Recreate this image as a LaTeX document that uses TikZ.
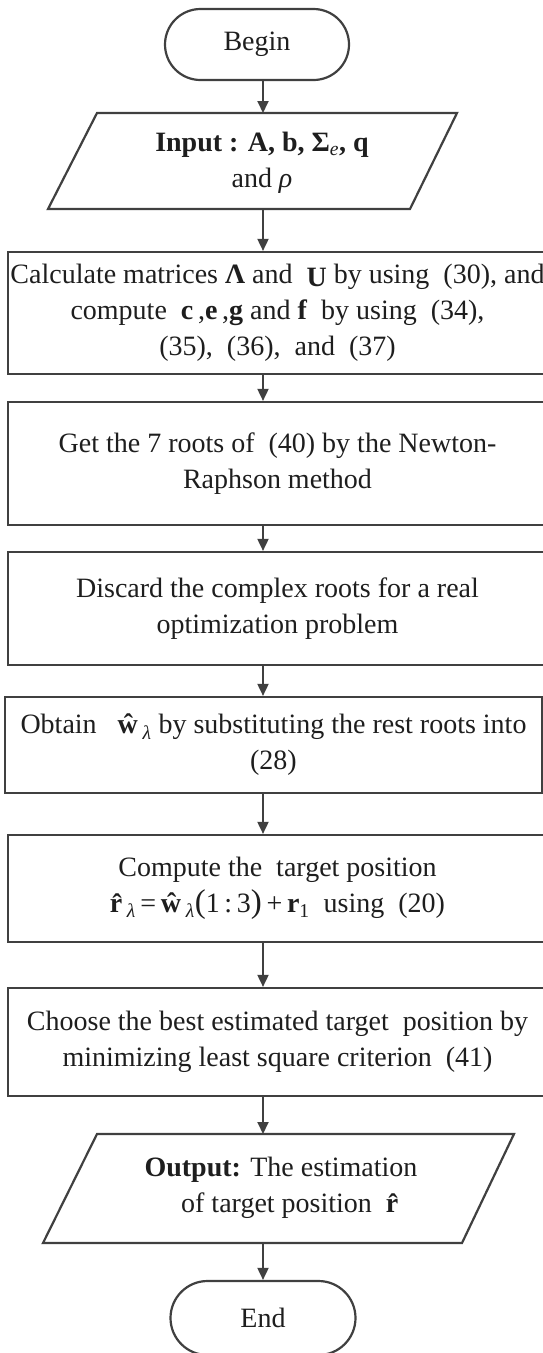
\documentclass[tikz,border=0pt]{standalone}
\usepackage{fontspec}
\setmainfont{Liberation Serif}
\usetikzlibrary{arrows.meta,shapes.misc}
\definecolor{ln}{HTML}{404040}
\definecolor{tx}{HTML}{1E1E1E}
\begin{document}
\begin{tikzpicture}[x=1pt,y=-1pt,
  txt/.style={text=tx, align=center, font=\fontsize{28}{36}\selectfont, inner sep=0pt},
  box/.style={txt, draw=ln, line width=2.2pt, rectangle},
  term/.style={txt, draw=ln, line width=2.2pt, rounded rectangle, minimum width=184pt, minimum height=71pt},
  shapeline/.style={draw=ln, line width=2.2pt, line join=miter},
  arr/.style={draw=ln, line width=1.8pt, -{Triangle[length=12pt,width=11pt]}}]
\useasboundingbox (0,0) rectangle (543,1353);
\clip (0,0) rectangle (543,1353);
\fill[white] (0,0) rectangle (543,1353);
\coordinate (ax) at (263,0);
% Begin
\node[term] (begin) at (257,44.5) {Begin};
% Input
\draw[shapeline] (97,113) -- (457,113) -- (410,209) -- (48,209) -- cycle;
\coordinate (inTop) at (263,113);
\coordinate (inBot) at (263,209);
\node[txt] (input) at (262,163) {\textbf{Input : A, b, Σ}\textsubscript{\textit{e}}\textbf{, q}\\and \textit{ρ}};
% boxes
\node[box, minimum width=539pt, minimum height=122pt] (calc) at (277.5,313)
 {Calculate matrices \textbf{Λ} and \ \raisebox{-3pt}{\textbf{U}} by using\ \ (30), and\\
  compute\ \ \textbf{c}\,,\textbf{e}\,,\textbf{g} and \textbf{f}\ \ by using\ \ (34),\\
  (35),\ \ (36),\ \ and\ \ (37)};
\node[box, minimum width=539pt, minimum height=123pt] (roots) at (277.5,463.5)
 {Get the 7 roots of\ \ (40) by the Newton-\\Raphson method};
\node[box, minimum width=539pt, minimum height=113pt] (discard) at (277.5,608.5)
 {Discard the complex roots for a real\\optimization problem};
\node[box, minimum width=537pt, minimum height=96pt] (obtain) at (273.5,745)
 {Obtain\ \ \ \textbf{ŵ}\,\textsubscript{\textit{λ}} by substituting the rest roots into\\(28)};
\node[box, minimum width=539pt, minimum height=107pt] (compute) at (277.5,888.5)
 {Compute the\ \ target position\\
  \textbf{\^r}\textsubscript{\textit{λ}}\,=\,\textbf{ŵ}\,\textsubscript{\textit{λ}}{\fontsize{33}{33}\selectfont(}1\,:\,3{\fontsize{33}{33}\selectfont)}\,+\,\textbf{r}\textsubscript{1}\ \ using\ \ (20)};
\node[box, minimum width=539pt, minimum height=108pt] (choose) at (277.5,1042)
 {Choose the best estimated target\ \ position by\\minimizing least square criterion\ \ (41)};
% Output
\draw[shapeline] (97,1134) -- (514,1134) -- (462,1243) -- (43,1243) -- cycle;
\coordinate (outTop) at (263,1134);
\coordinate (outBot) at (263,1243);
\node[txt] (output) at (281,1188) {\textbf{Output:} The estimation\\\hspace*{22pt}of target position\ \ \textbf{\^r}};
% End
\node[term, minimum height=74pt, minimum width=185pt] (end) at (263,1318) {End};
% arrows
\draw[arr] (begin.south -| ax) -- (inTop);
\draw[arr] (inBot) -- (calc.north -| ax);
\draw[arr] (calc.south -| ax) -- (roots.north -| ax);
\draw[arr] (roots.south -| ax) -- (discard.north -| ax);
\draw[arr] (discard.south -| ax) -- (obtain.north -| ax);
\draw[arr] (obtain.south -| ax) -- (compute.north -| ax);
\draw[arr] (compute.south -| ax) -- (choose.north -| ax);
\draw[arr] (choose.south -| ax) -- (outTop);
\draw[arr] (outBot) -- (end.north -| ax);
\end{tikzpicture}
\end{document}
